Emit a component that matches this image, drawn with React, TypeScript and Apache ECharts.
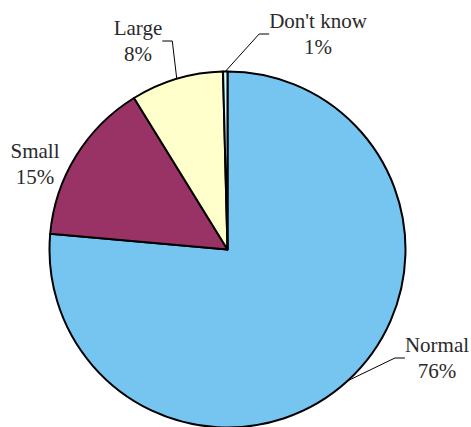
import React, { useEffect, useRef } from "react";
import * as echarts from "echarts";

const categories = ["Normal", "Small", "Large", "Don't know"];
const values = [76.4, 14.8, 8.4, 0.4];
const percentLabels = ["76%", "15%", "8%", "1%"];
const colors = ["#75C5F0", "#993366", "#FFFFCC", "#CCFFFF"];
const labelPositions = [
  [437, 358],
  [35, 164],
  [138, 41],
  [318, 34],
];
const showLines = [true, false, true, true];

export default function App() {
  const ref = useRef<HTMLDivElement>(null);
  useEffect(() => {
    document.body.style.margin = "0";
    const chart = echarts.init(ref.current!, undefined, { renderer: "svg" });
    chart.setOption({
      animation: false,
      backgroundColor: "#ffffff",
      series: [
        {
          type: "pie",
          center: [227.5, 249.5],
          radius: 178,
          startAngle: 90,
          clockwise: true,
          avoidLabelOverlap: false,
          itemStyle: { borderColor: "#000", borderWidth: 2 },
          label: {
            show: true,
            position: "outside",
            fontFamily: "Liberation Serif",
            fontSize: 21,
            lineHeight: 26,
            color: "#2a2a2a",
            align: "center",
            formatter: (p: any) => `${p.name}\n${percentLabels[p.dataIndex]}`,
          },
          labelLine: {
            show: true,
            length: 10,
            length2: 10,
            lineStyle: { color: "#000", width: 1 },
          },
          labelLayout: (p: any) => {
            const pos = labelPositions[p.dataIndex];
            return {
              x: pos[0],
              y: pos[1],
              align: "center",
              verticalAlign: "middle",
            };
          },
          data: categories.map((c, i) => ({
            name: c,
            value: values[i],
            itemStyle: { color: colors[i] },
            labelLine: { show: showLines[i] },
          })),
        },
      ],
    });
    return () => chart.dispose();
  }, []);
  return <div ref={ref} style={{ width: 471, height: 427 }} />;
}
